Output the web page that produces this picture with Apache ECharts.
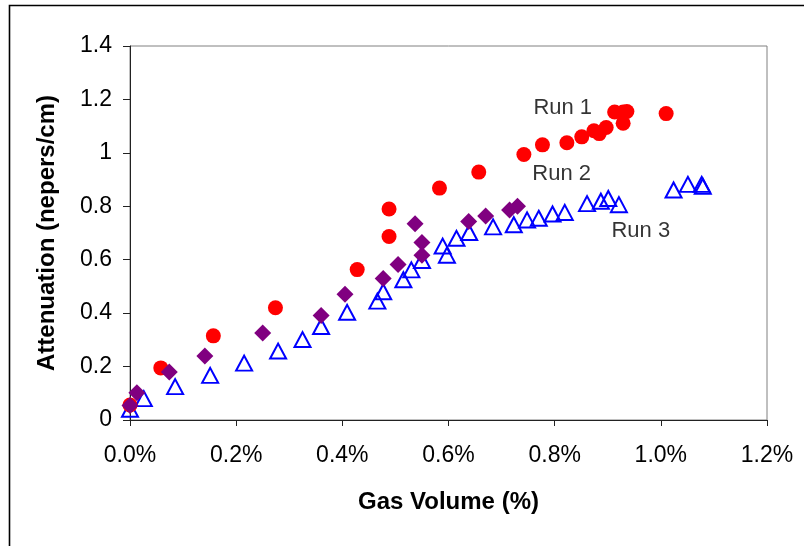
<!DOCTYPE html>
<html>
<head>
<meta charset="utf-8">
<script src="https://cdn.jsdelivr.net/npm/echarts@6/dist/echarts.min.js"></script>
<style>
html,body{margin:0;padding:0;background:#fff;}
#chart{width:804px;height:546px;}
</style>
</head>
<body>
<div id="chart"></div>
<script>
// Gas volume (%) and attenuation (nepers/cm)
var run1X = [0, 0.058, 0.157, 0.274, 0.428, 0.488, 0.488, 0.583, 0.657, 0.742, 0.777, 0.823, 0.851, 0.874, 0.884, 0.897, 0.913, 0.929, 0.936, 0.929, 1.01];
var run1Y = [0.056, 0.195, 0.315, 0.42, 0.563, 0.687, 0.79, 0.868, 0.928, 0.994, 1.03, 1.038, 1.06, 1.083, 1.072, 1.095, 1.153, 1.153, 1.155, 1.111, 1.147];

var run2X = [0, 0.013, 0.074, 0.141, 0.25, 0.36, 0.405, 0.477, 0.505, 0.537, 0.55, 0.55, 0.638, 0.67, 0.715, 0.73];
var run2Y = [0.054, 0.102, 0.18, 0.24, 0.326, 0.391, 0.471, 0.53, 0.582, 0.735, 0.664, 0.617, 0.743, 0.764, 0.786, 0.80];

var run3X = [0, 0.026, 0.085, 0.151, 0.215, 0.279, 0.325, 0.36, 0.409, 0.466, 0.477, 0.515, 0.53, 0.55, 0.589, 0.597, 0.615, 0.639, 0.684, 0.723, 0.748, 0.77, 0.796, 0.819, 0.861, 0.887, 0.901, 0.921, 1.024, 1.051, 1.077, 1.079];
var run3Y = [0.04, 0.08, 0.125, 0.167, 0.213, 0.258, 0.301, 0.35, 0.403, 0.445, 0.48, 0.525, 0.562, 0.597, 0.651, 0.617, 0.68, 0.702, 0.723, 0.731, 0.749, 0.755, 0.771, 0.777, 0.81, 0.819, 0.829, 0.806, 0.861, 0.882, 0.882, 0.875];

// Series annotations (label text and anchor in data units)
var labelNames = ['Run 1', 'Run 2', 'Run 3'];
var labelX = [0.759, 0.757, 0.906];
var labelY = [1.168, 0.921, 0.706];

var xTickMin = 0, xTickMax = 1.2, xTickStep = 0.2;
var yTickMin = 0, yTickMax = 1.4, yTickStep = 0.2;

function pairs(xs, ys) { return xs.map(function (x, i) { return [x, ys[i]]; }); }

var FONT = "'Liberation Sans', Arial, sans-serif";
var chart = echarts.init(document.getElementById('chart'), null, {renderer: 'canvas'});

var option = {
  animation: false,
  backgroundColor: '#fff',
  graphic: [{
    type: 'rect', silent: true,
    shape: {x: 9.5, y: 5.5, width: 900, height: 700},
    style: {fill: 'none', stroke: '#000', lineWidth: 1.6}
  }],
  grid: {left: 130, top: 46, right: 37, bottom: 126, show: true, borderColor: '#808080', borderWidth: 1, backgroundColor: 'transparent'},
  xAxis: {
    type: 'value', min: xTickMin, max: xTickMax, interval: xTickStep,
    name: 'Gas Volume (%)', nameLocation: 'middle', nameGap: 70,
    nameTextStyle: {fontFamily: FONT, fontSize: 24, fontWeight: 'bold', color: '#000'},
    axisLine: {show: true, onZero: false, lineStyle: {color: '#222', width: 1}},
    axisTick: {show: true, length: 6, lineStyle: {color: '#222'}},
    splitLine: {show: false},
    axisLabel: {margin: 24, fontFamily: FONT, fontSize: 23, color: '#000',
      formatter: function (v) { return v.toFixed(1) + '%'; }}
  },
  yAxis: {
    type: 'value', min: yTickMin, max: yTickMax, interval: yTickStep,
    name: 'Attenuation (nepers/cm)', nameLocation: 'middle', nameGap: 71, nameRotate: 90,
    nameTextStyle: {fontFamily: FONT, fontSize: 24, fontWeight: 'bold', color: '#000'},
    axisLine: {show: true, onZero: false, lineStyle: {color: '#222', width: 1}},
    axisTick: {show: true, length: 7, lineStyle: {color: '#222'}},
    splitLine: {show: false},
    axisLabel: {margin: 18, fontFamily: FONT, fontSize: 23, color: '#000',
      formatter: function (v) { return String(+v.toFixed(1)); }}
  },
  series: [
    {
      name: 'Run 3', type: 'scatter', data: pairs(run3X, run3Y),
      symbol: 'triangle', symbolSize: [16, 15],
      itemStyle: {color: 'rgba(255,255,255,0)', borderColor: '#0000ff', borderWidth: 2, opacity: 1}
    },
    {
      name: 'Run 1', type: 'scatter', data: pairs(run1X, run1Y),
      symbol: 'circle', symbolSize: 15,
      itemStyle: {color: '#ff0000', opacity: 1}
    },
    {
      name: 'Run 2', type: 'scatter', data: pairs(run2X, run2Y),
      symbol: 'diamond', symbolSize: 17,
      itemStyle: {color: '#800080', opacity: 1}
    },
    {
      name: 'labels', type: 'scatter', silent: true, symbolSize: 1,
      itemStyle: {color: 'rgba(0,0,0,0)'},
      data: labelNames.map(function (n, i) { return {name: n, value: [labelX[i], labelY[i]]}; }),
      label: {show: true, position: 'right', distance: 0, formatter: '{b}',
        fontFamily: FONT, fontSize: 22, color: '#000'}
    }
  ]
};
chart.setOption(option);
</script>
</body>
</html>
